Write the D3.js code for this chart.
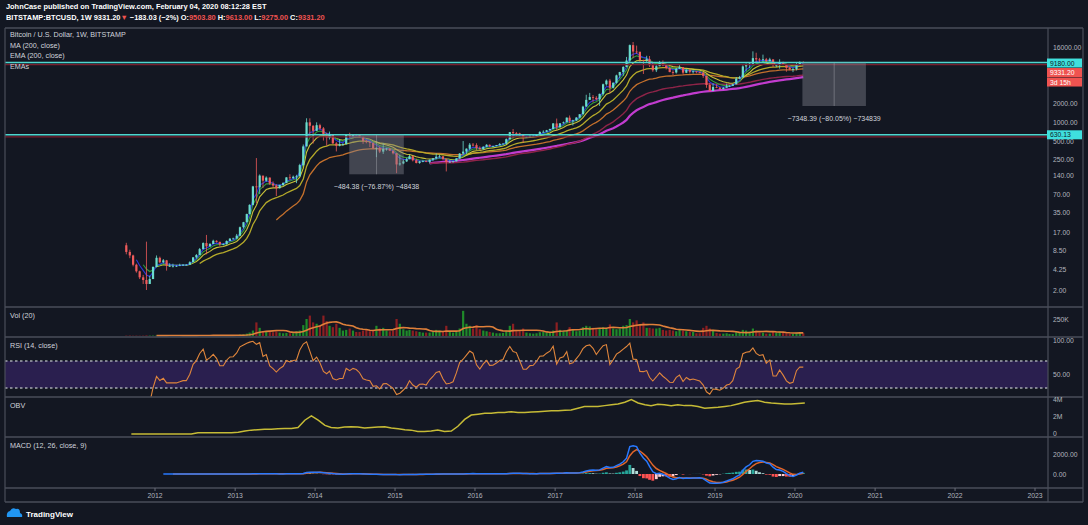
<!DOCTYPE html>
<html lang="en">
<head>
<meta charset="UTF-8">
<title>BTCUSD 1W - TradingView</title>
<script src="https://d3js.org/d3.v7.min.js"></script>
<style>
  body { margin: 0; background: #131722; }
  svg text { font-family: "Liberation Sans", Arial, sans-serif; }
</style>
</head>
<body>
<svg id="chart" width="1088" height="525"></svg>
<script>
// half-month candles, first one starts 2011-08-16
const firstOpen = 10.5;
const closes = [
  8.2, 7.2, 5.1, 4.0, 3.2, 2.9, 2.5, 3.0, 4.7,
  6.6, 5.6, 6.0, 4.9, 4.9, 4.9, 4.9, 5.0, 5.1, 5.1, 5.6, 6.7, 7.3, 9.1, 11.4, 10.1, 11.0, 12.4, 11.9, 10.9, 10.9, 12.3, 13.4, 13.5,
  15.0, 20.5, 24.7, 33.4, 46.9, 93, 90, 139, 115, 129, 103, 96, 87, 98, 106, 130, 127, 133, 135, 205, 410, 1000, 880, 730,
  900, 800, 620, 565, 630, 458, 420, 445, 445, 630, 595, 640, 625, 585, 500, 480, 470, 386, 390, 338, 375, 378, 350, 318,
  210, 218, 235, 254, 285, 245, 222, 236, 237, 230, 250, 263, 280, 284, 255, 230, 232, 236, 263, 314, 338, 377, 437, 430,
  387, 368, 405, 435, 415, 416, 430, 448, 455, 535, 695, 670, 665, 625, 575, 575, 605, 608, 640, 700, 705, 745, 780, 960,
  830, 965, 1000, 1190, 1050, 1075, 1195, 1350, 1790, 2300, 2550, 2480, 2350, 2870, 4100, 4700, 3600, 4340, 5700, 6450, 7800, 9900, 17500, 13800,
  13700, 10100, 10000, 10400, 8300, 6900, 8000, 9200, 8250, 7500, 6450, 6350, 7300, 7730, 6300, 7000, 6500, 6620, 6450, 6300, 5600, 4000, 3200, 3700,
  3620, 3450, 3600, 3820, 3870, 4100, 5050, 5300, 7950, 8550, 8800, 10800, 10300, 10100, 10350, 9600, 10300, 8300, 8300, 9200, 8500, 7550, 7100, 7200,
  8700, 9350, 9331.2
];
const highs = [
  11.5, 8.9, 7.4, 5.3, 4.1, 3.5, 12.0, 3.4, 4.8,
  7.2, 6.9, 6.3, 6.1, 5.4, 5.3, 5.0, 5.3, 5.2, 5.2, 5.8, 6.8, 7.6, 9.5, 11.7, 15.4, 11.4, 12.9, 12.6, 12.0, 11.3, 12.6, 13.7, 13.9,
  16.0, 21, 25, 33.9, 48, 95, 266, 145, 130, 135, 130, 112, 101, 99, 108, 131, 146, 139, 143, 215, 440, 1163, 1160, 900,
  1000, 950, 840, 680, 710, 640, 480, 540, 460, 630, 680, 640, 650, 630, 600, 520, 490, 450, 390, 410, 460, 390, 385, 350,
  320, 300, 250, 270, 300, 290, 260, 240, 245, 245, 252, 265, 315, 300, 285, 260, 245, 240, 265, 320, 500, 380, 465, 465,
  460, 410, 410, 445, 440, 420, 432, 465, 460, 550, 700, 780, 700, 680, 625, 590, 615, 615, 645, 720, 745, 755, 790, 975,
  1150, 975, 1030, 1200, 1290, 1100, 1210, 1350, 1850, 2780, 2980, 2750, 2640, 2900, 4200, 4900, 5000, 4400, 5850, 6500, 8000, 11300, 17900, 19666,
  17200, 13600, 10200, 11800, 11700, 9000, 8300, 9750, 9950, 8600, 7750, 6850, 7500, 8500, 7750, 7150, 7400, 6800, 6700, 6550, 6550, 5600, 4300, 4250,
  4100, 3700, 3700, 4200, 3950, 4120, 5350, 5600, 8300, 8900, 9300, 13900, 13200, 10900, 12300, 10900, 10950, 10350, 8700, 10350, 9500, 8550, 7900, 7550,
  9000, 9600, 9613
];
const lows = [
  7.5, 6.5, 4.8, 3.8, 3.0, 2.5, 2.0, 2.8, 3.0,
  4.6, 5.4, 5.4, 4.1, 4.7, 4.6, 4.7, 4.9, 4.9, 5.0, 5.1, 5.7, 6.4, 7.6, 9.0, 7.5, 9.9, 11.0, 11.6, 10.1, 10.5, 10.8, 12.3, 13.1,
  13.3, 14.8, 19.6, 24.5, 33.0, 46, 50, 70, 88, 110, 98, 90, 65, 86, 94, 105, 117, 122, 105, 138, 198, 410, 576, 455,
  730, 760, 510, 420, 530, 450, 340, 410, 420, 440, 560, 555, 610, 570, 450, 460, 400, 370, 275, 320, 310, 350, 345, 305,
  152, 200, 212, 230, 260, 235, 218, 215, 228, 228, 218, 240, 255, 270, 250, 162, 225, 225, 235, 260, 300, 310, 355, 410,
  360, 365, 365, 400, 400, 405, 412, 425, 440, 440, 530, 550, 615, 610, 470, 565, 570, 590, 605, 630, 680, 700, 740, 780,
  750, 880, 950, 1000, 970, 890, 1050, 1180, 1350, 1800, 2300, 2100, 2250, 1840, 2700, 3900, 2950, 3500, 4200, 5100, 5600, 7800, 9400, 10800,
  12700, 9200, 6000, 9400, 7800, 6500, 6450, 8000, 8000, 7100, 6400, 5750, 6100, 7200, 5880, 6200, 6100, 6100, 6150, 6200, 5200, 3600, 3150, 3200,
  3550, 3350, 3380, 3600, 3700, 3850, 4100, 5000, 5300, 6600, 7450, 8500, 9050, 9100, 9400, 9350, 9650, 7750, 7800, 7300, 8400, 6530, 6900, 6430,
  6870, 8300, 9275
];
// weekly-equivalent volume, thousands of BTC
const volumes = [
  5, 6, 4, 5, 4, 5, 8, 6, 6,
  8, 7, 6, 7, 6, 6, 6, 5, 5, 5, 6, 7, 8, 9, 12, 15, 9, 9, 8, 8, 8, 9, 10, 9,
  15, 20, 25, 35, 50, 80, 200, 120, 70, 60, 60, 55, 70, 50, 40, 45, 40, 40, 70, 80, 160, 250, 300, 200,
  180, 160, 300, 220, 150, 130, 180, 120, 80, 90, 110, 80, 60, 60, 80, 90, 70, 90, 150, 110, 120, 80, 70, 80,
  250, 180, 100, 80, 90, 80, 70, 60, 50, 50, 50, 60, 90, 80, 70, 150, 60, 50, 60, 110, 370, 180, 150, 110,
  160, 100, 80, 70, 60, 50, 40, 40, 45, 80, 150, 180, 90, 70, 110, 50, 40, 35, 40, 55, 60, 50, 50, 80,
  200, 90, 70, 80, 130, 100, 70, 80, 130, 150, 140, 120, 100, 120, 130, 110, 170, 110, 100, 110, 150, 160, 250, 200,
  230, 160, 200, 120, 120, 110, 110, 120, 90, 80, 90, 80, 70, 90, 80, 70, 60, 60, 40, 40, 120, 150, 110, 90,
  45, 35, 35, 40, 30, 30, 65, 50, 90, 80, 65, 110, 80, 50, 50, 35, 35, 60, 45, 65, 45, 50, 35, 30,
  50, 45, 40
];
// OBV, millions, monthly from 2011-09
const obvMonthly = [
  0, 0, 0, 0,
  0, 0, 0, 0, 0, 0, 0.15, 0.15, 0.15, 0.15, 0.15, 0.15,
  0.2, 0.35, 0.45, 0.5, 0.55, 0.55, 0.6, 0.65, 0.65, 0.75, 1.6, 2.1,
  1.6, 1.0, 0.75, 0.7, 0.8, 0.85, 0.8, 0.7, 0.75, 0.8, 0.85, 0.7,
  0.6, 0.5, 0.45, 0.3, 0.3, 0.35, 0.45, 0.3, 0.35, 0.9, 1.7, 2.2,
  2.3, 2.4, 2.4, 2.5, 2.5, 2.6, 2.5, 2.5, 2.55, 2.6, 2.65, 2.7,
  2.7, 2.75, 2.8, 3.0, 3.2, 3.2, 3.2, 3.3, 3.4, 3.5, 3.7, 4.0,
  3.6, 3.4, 3.3, 3.45, 3.4, 3.3, 3.4, 3.3, 3.3, 3.2, 3.0, 3.05,
  3.1, 3.2, 3.3, 3.5, 3.7, 3.8, 3.9, 3.7, 3.6, 3.55, 3.5, 3.5,
  3.55, 3.6
];
// 4000 sits under the price tags, as in the original
const priceTicks = [16000, 2000, 1000, 500, 250, 140, 70, 35, 17, 8.5, 4.25, 2];
const yearTicks = [2012, 2013, 2014, 2015, 2016, 2017, 2018, 2019, 2020, 2021, 2022, 2023];
const hLines = [9180, 630.13];
const measures = [
  { start: new Date(2014, 5, 6), end: new Date(2015, 1, 10), from: 630.13, to: 145.75 },
  { start: new Date(2020, 1, 4), end: new Date(2020, 10, 20), from: 9180, to: 1831.61 }
];

const svg = d3.select("#chart");
const L = 5, R = 1048, RR = 1083;
const seps = [28, 307, 337, 397, 437, 488, 502];

svg.append("rect").attr("width", 1088).attr("height", 525).attr("fill", "#131722");

const periodDate = i => { const k = i + 1; return new Date(2011, 7 + Math.floor(k / 2), k % 2 ? 16 : 1); };
const mid = i => d3.timeDay.offset(periodDate(i), 7);

const x = d3.scaleTime().domain([new Date(2012, 0, 1), new Date(2023, 0, 1)]).range([155, 1035]);
const y = d3.scaleLog().domain([2, 32768]).range([290, 28.2]);
const yVol = d3.scaleLinear().domain([0, 250]).range([336, 319]);
const yRsi = d3.scaleLinear().domain([50, 100]).range([374.5, 340.75]);
const yObv = d3.scaleLinear().domain([0, 4]).range([434, 399.6]);
const yMacd = d3.scaleLinear().domain([0, 2000]).range([474, 454]);

// indicators
function ema(arr, n) {
  const out = arr.map(() => null);
  const k = 2 / (n + 1);
  let prev = null, start = -1;
  for (let i = 0; i < arr.length; i++) {
    if (arr[i] == null) continue;
    if (start < 0) start = i;
    if (i - start < n - 1) continue;
    if (prev == null) prev = d3.mean(arr.slice(i - n + 1, i + 1));
    else prev = arr[i] * k + prev * (1 - k);
    out[i] = prev;
  }
  return out;
}
function sma(arr, n) {
  return arr.map((v, i) => i < n - 1 ? null : d3.mean(arr.slice(i - n + 1, i + 1)));
}
function rsi(arr, n) {
  const out = arr.map(() => null);
  let up = 0, dn = 0;
  for (let i = 1; i < arr.length; i++) {
    const ch = arr[i] - arr[i - 1];
    const u = Math.max(ch, 0), d = Math.max(-ch, 0);
    if (i <= n) { up += u / n; dn += d / n; }
    else { up = (up * (n - 1) + u) / n; dn = (dn * (n - 1) + d) / n; }
    if (i >= n) out[i] = dn === 0 ? 100 : 100 - 100 / (1 + up / dn);
  }
  return out;
}

const defs = svg.append("defs");
function clip(id, y0, y1) {
  defs.append("clipPath").attr("id", id).append("rect")
    .attr("x", L).attr("y", y0).attr("width", R - L).attr("height", y1 - y0);
}
clip("cMain", 28, 307); clip("cVol", 307, 337); clip("cRsi", 337, 397);
clip("cObv", 397, 437); clip("cMacd", 437, 488);

// ---- main panel
const main = svg.append("g").attr("clip-path", "url(#cMain)");

const lineGen = (sc) => d3.line().defined(d => d.v != null).x(d => x(d.t)).y(d => sc(d.v));
const series = arr => arr.map((v, i) => ({ t: mid(i), v }));

const maSpecs = [
  { v: sma(closes, 92), c: "#c23ccf", w: 2.2 },
  { v: ema(closes, 92), c: "#8e2448", w: 1.4 },
  { v: ema(closes, 46), c: "#c4702c", w: 1.3 },
  { v: ema(closes, 23), c: "#b5aa2a", w: 1.3 },
  { v: ema(closes, 10), c: "#c9c23a", w: 1.1 },
  { v: ema(closes, 6), c: "#2f9a3a", w: 1.1 },
  { v: ema(closes, 4), c: "#2a36d8", w: 1.1 }
];
maSpecs.forEach(s => {
  main.append("path").datum(series(s.v)).attr("fill", "none")
    .attr("stroke", s.c).attr("stroke-width", s.w).attr("d", lineGen(y));
});

const candles = closes.map((c, i) => ({ t: mid(i), o: i ? closes[i - 1] : firstOpen, c, h: highs[i], l: lows[i] }));
const cg = main.append("g");
cg.selectAll("line").data(candles).join("line")
  .attr("x1", d => x(d.t)).attr("x2", d => x(d.t))
  .attr("y1", d => y(d.h)).attr("y2", d => y(d.l))
  .attr("stroke", d => d.c >= d.o ? "#6adccd" : "#ef5b5b").attr("stroke-width", 0.8);
cg.selectAll("rect").data(candles).join("rect")
  .attr("x", d => x(d.t) - 1.1).attr("width", 2.2)
  .attr("y", d => y(Math.max(d.o, d.c)))
  .attr("height", d => Math.max(0.8, Math.abs(y(d.o) - y(d.c))))
  .attr("fill", d => d.c >= d.o ? "#6adccd" : "#ef5b5b");

// horizontal levels
hLines.forEach(v => {
  main.append("line").attr("x1", L).attr("x2", R).attr("y1", y(v) + 2).attr("y2", y(v) + 2)
    .attr("stroke", "#7a1f2e").attr("stroke-width", 1.2);
  main.append("line").attr("x1", L).attr("x2", R).attr("y1", y(v)).attr("y2", y(v))
    .attr("stroke", "#4fd6cf").attr("stroke-width", 1.6);
});

// measure boxes
measures.forEach(m => {
  const x0 = x(m.start), x1 = x(m.end), y0 = y(m.from), y1 = y(m.to);
  main.append("rect").attr("x", x0).attr("y", y0).attr("width", x1 - x0).attr("height", y1 - y0)
    .attr("fill", "rgba(130,133,145,0.42)");
  main.append("line").attr("x1", (x0 + x1) / 2).attr("x2", (x0 + x1) / 2).attr("y1", y0).attr("y2", y1)
    .attr("stroke", "rgba(170,172,180,0.55)").attr("stroke-width", 0.8);
  const diff = m.to - m.from;
  const txt = `\u2212${d3.format(".2f")(-diff)} (\u2212${d3.format(".2f")(-diff / m.from * 100)}%) \u2212${Math.round(-diff * 100)}`;
  main.append("text").attr("x", (x0 + x1) / 2).attr("y", y1 + 15).attr("text-anchor", "middle")
    .attr("font-size", 7).attr("fill", "#d1d4dc").text(txt);
});

// legend
["Bitcoin / U.S. Dollar, 1W, BITSTAMP", "MA (200, close)", "EMA (200, close)", "EMAs"].forEach((t, i) => {
  svg.append("text").attr("x", 10).attr("y", 37 + i * 10.5).attr("font-size", 7.2)
    .attr("fill", "#d1d4dc").text(t);
});

// ---- volume panel
const vol = svg.append("g").attr("clip-path", "url(#cVol)");
vol.selectAll("rect").data(candles).join("rect")
  .attr("x", d => x(d.t) - 1.1).attr("width", 2.2)
  .attr("y", (d, i) => yVol(volumes[i]))
  .attr("height", (d, i) => yVol(0) - yVol(volumes[i]))
  .attr("fill", d => d.c >= d.o ? "#1f8a2a" : "#8c1f22");
vol.append("path").datum(series(sma(volumes, 10))).attr("fill", "none")
  .attr("stroke", "#e0803a").attr("stroke-width", 1.6).attr("d", lineGen(yVol));

// ---- RSI panel
const rg = svg.append("g").attr("clip-path", "url(#cRsi)");
rg.append("rect").attr("x", L).attr("width", R - L).attr("y", yRsi(70)).attr("height", yRsi(30) - yRsi(70))
  .attr("fill", "#2a1f4f");
[70, 30].forEach(v => rg.append("line").attr("x1", L).attr("x2", R).attr("y1", yRsi(v)).attr("y2", yRsi(v))
  .attr("stroke", "#a3a6af").attr("stroke-width", 1.4).attr("stroke-dasharray", "2.5,2.5"));
rg.append("path").datum(series(rsi(closes, 7))).attr("fill", "none")
  .attr("stroke", "#e0863c").attr("stroke-width", 1.1).attr("d", lineGen(yRsi));

// ---- OBV panel
const og = svg.append("g").attr("clip-path", "url(#cObv)");
og.append("path").datum(obvMonthly.map((v, j) => ({ t: new Date(2011, 8 + j, 15), v })))
  .attr("fill", "none").attr("stroke", "#c6bb36").attr("stroke-width", 1.5).attr("d", lineGen(yObv));

// ---- MACD panel
const mg = svg.append("g").attr("clip-path", "url(#cMacd)");
const fast = ema(closes, 6), slow = ema(closes, 12);
const macd = closes.map((c, i) => fast[i] != null && slow[i] != null ? fast[i] - slow[i] : null);
const signal = ema(macd, 4);
const hist = macd.map((m, i) => m != null && signal[i] != null ? m - signal[i] : null);
mg.selectAll("rect").data(hist.map((h, i) => ({ h, i })).filter(d => d.h != null)).join("rect")
  .attr("x", d => x(mid(d.i)) - 1.4).attr("width", 2.8)
  .attr("y", d => Math.min(yMacd(d.h), yMacd(0)))
  .attr("height", d => Math.abs(yMacd(d.h) - yMacd(0)))
  .attr("fill", d => {
    const p = d.i > 0 && hist[d.i - 1] != null ? hist[d.i - 1] : 0;
    if (d.h >= 0) return d.h >= p ? "#26a69a" : "#b2dfdb";
    return d.h < p ? "#ff5252" : "#ffcdd2";
  });
mg.append("path").datum(series(signal)).attr("fill", "none")
  .attr("stroke", "#e0652a").attr("stroke-width", 1.5).attr("d", lineGen(yMacd));
mg.append("path").datum(series(macd)).attr("fill", "none")
  .attr("stroke", "#2979ff").attr("stroke-width", 1.5).attr("d", lineGen(yMacd));

// ---- frame
seps.forEach(v => svg.append("line").attr("x1", L).attr("x2", RR).attr("y1", v).attr("y2", v)
  .attr("stroke", "#4a4e5a").attr("stroke-width", 1.4));
[L, R, RR].forEach(v => svg.append("line").attr("x1", v).attr("x2", v).attr("y1", 28).attr("y2", 502)
  .attr("stroke", "#4a4e5a").attr("stroke-width", 1.2));

// panel titles
[["Vol (20)", 318], ["RSI (14, close)", 348], ["OBV", 408], ["MACD (12, 26, close, 9)", 448]].forEach(([t, yy]) => {
  svg.append("text").attr("x", 10).attr("y", yy).attr("font-size", 7.2).attr("fill", "#d1d4dc").text(t);
});

// ---- right axes
const axisText = (yy, t) => svg.append("text").attr("x", 1053).attr("y", yy + 2.5)
  .attr("font-size", 6.8).attr("fill", "#b2b5be").text(t);
priceTicks.forEach(v => axisText(y(v), d3.format(".2f")(v)));
axisText(yVol(250), "250K");
axisText(yRsi(100), "100.00");
axisText(yRsi(50), "50.00");
axisText(yObv(4), "4M");
axisText(yObv(2), "2M");
axisText(yObv(0) - 1, "0");
axisText(yMacd(2000), "2000.00");
axisText(yMacd(0), "0.00");

// price labels on the axis
function axisTag(yy, t, bg, fg) {
  svg.append("rect").attr("x", 1047).attr("y", yy - 4.5).attr("width", 35).attr("height", 9).attr("fill", bg);
  svg.append("text").attr("x", 1050).attr("y", yy + 2.5).attr("font-size", 6.8).attr("fill", fg).text(t);
}
axisTag(y(hLines[0]) + 0.5, d3.format(".2f")(hLines[0]), "#3fe0de", "#102027");
axisTag(y(hLines[0]) + 10, d3.format(".2f")(closes[closes.length - 1]), "#ef5350", "#ffffff");
axisTag(y(hLines[0]) + 19.5, "3d 15h", "#ef5350", "#ffffff");
axisTag(y(hLines[1]), d3.format(".2f")(hLines[1]), "#3fe0de", "#102027");

// ---- time axis
yearTicks.forEach(yr => {
  const xx = x(new Date(yr, 0, 1));
  svg.append("line").attr("x1", xx).attr("x2", xx).attr("y1", 488).attr("y2", 491)
    .attr("stroke", "#6a6d78").attr("stroke-width", 1);
  svg.append("text").attr("x", xx).attr("y", 498).attr("text-anchor", "middle")
    .attr("font-size", 6.8).attr("fill", "#b2b5be").text(yr);
});

// ---- header
svg.append("text").attr("x", 6).attr("y", 9).attr("font-size", 7.4).attr("font-weight", "bold")
  .attr("fill", "#ffffff").text("JohnCase published on TradingView.com, February 04, 2020 08:12:28 EST");
const h2 = svg.append("text").attr("x", 6).attr("y", 20).attr("font-size", 7.4).attr("font-weight", "bold").attr("fill", "#ffffff");
[["BITSTAMP:BTCUSD, 1W  9331.20", "#ffffff"], ["\u25BC", "#ef5350"], [" \u2212183.03 (\u22122%)  O:", "#ffffff"],
 ["9503.80", "#ef5350"], [" H:", "#ffffff"], ["9613.00", "#ef5350"], [" L:", "#ffffff"], ["9275.00", "#ef5350"],
 [" C:", "#ffffff"], ["9331.20", "#ef5350"]].forEach(([t, c]) => h2.append("tspan").attr("fill", c).text(t));

// ---- logo
const logo = svg.append("g").attr("transform", "translate(6,507)");
logo.append("path").attr("d", "M1,10 Q0,5 4,4 Q6,0 10,2 Q14,1 14,6 Q17,7 16,10 Z").attr("fill", "#2196f3");
logo.append("text").attr("x", 20).attr("y", 9.5).attr("font-size", 8).attr("font-weight", "bold")
  .attr("fill", "#ffffff").text("TradingView");
</script>
</body>
</html>
